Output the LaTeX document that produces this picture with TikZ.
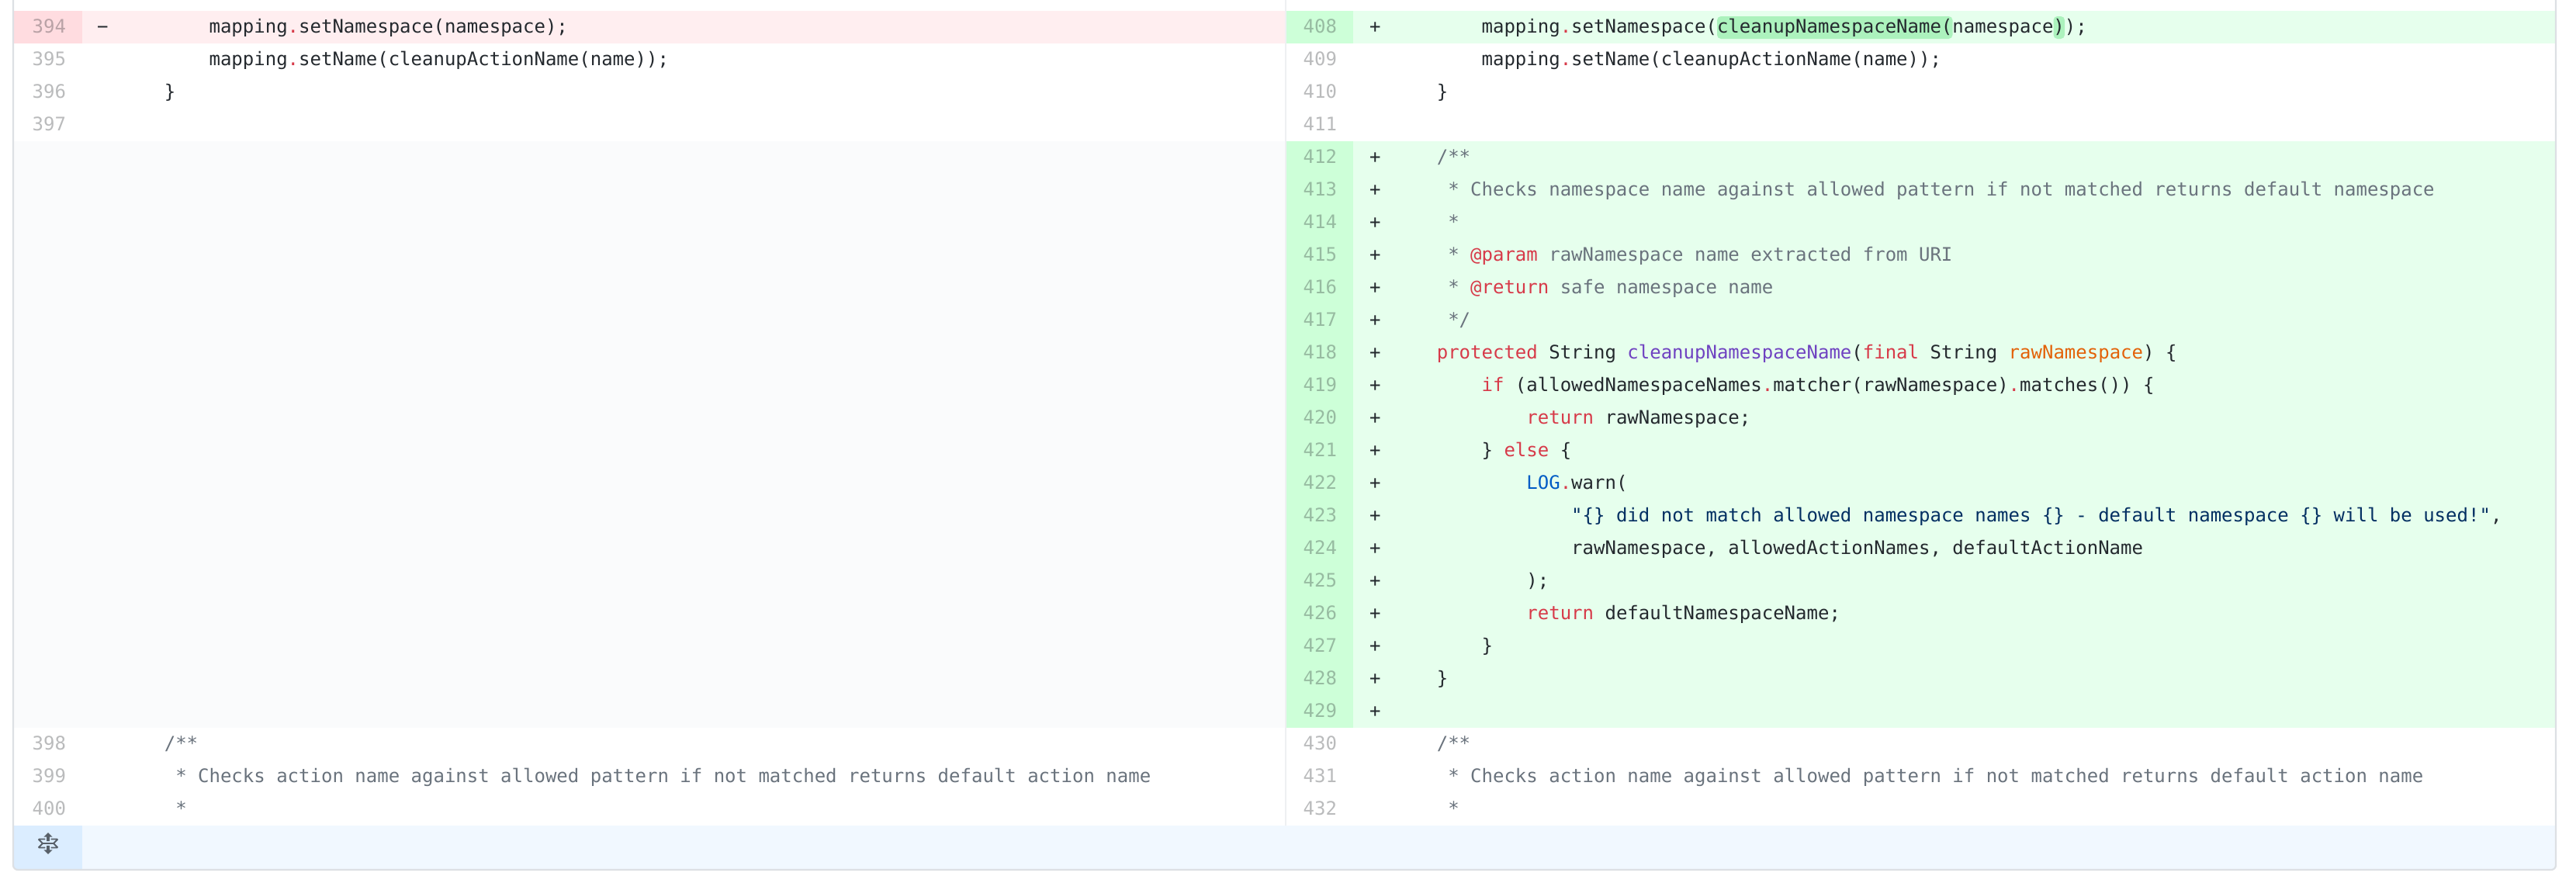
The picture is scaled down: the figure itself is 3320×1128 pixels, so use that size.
\documentclass[tikz,border=0pt]{standalone}
\usepackage{fontspec}
\setmonofont{DejaVu Sans Mono}
\usepackage{xcolor}
\definecolor{txt}{HTML}{24292E}
\definecolor{kwc}{HTML}{D73A49}
\definecolor{fnc}{HTML}{6F42C1}
\definecolor{varc}{HTML}{E36209}
\definecolor{cstc}{HTML}{005CC5}
\definecolor{strc}{HTML}{032F62}
\definecolor{cmtc}{HTML}{6A737D}
\definecolor{numc}{HTML}{1B1F23}
\definecolor{delbg}{HTML}{FFEEF0}
\definecolor{delnum}{HTML}{FFDCE0}
\definecolor{addbg}{HTML}{E6FFED}
\definecolor{addnum}{HTML}{CDFFD8}
\definecolor{addword}{HTML}{ACF2BD}
\definecolor{emptybg}{HTML}{FAFBFC}
\definecolor{expbg}{HTML}{F1F8FF}
\definecolor{expnum}{HTML}{DBEDFF}
\definecolor{bordc}{HTML}{DDE0E4}
\definecolor{divc}{HTML}{EEF0F2}
\definecolor{iconc}{HTML}{586069}
\newcommand\Kw[1]{\textcolor{kwc}{#1}}
\newcommand\Fn[1]{\textcolor{fnc}{#1}}
\newcommand\Vr[1]{\textcolor{varc}{#1}}
\newcommand\Cn[1]{\textcolor{cstc}{#1}}
\newcommand\St[1]{\textcolor{strc}{#1}}
\newcommand\Cm[1]{\textcolor{cmtc}{#1}}
\newcommand\Dt{\textcolor{kwc}{.}}
\newcommand\Dq{\char34 }
\newcommand\Lcode[4]{\node[codetext] (#1) at ({154+#3*14.45},{42.5+42*#2}) {#4};}
\newcommand\Rcode[4]{\node[codetext] (#1) at ({1794+#3*14.45},{42.5+42*#2}) {#4};}
\newcommand\Lnum[2]{\node[numtext] (ln#1) at (85,{42.5+42*#2}) {#1};}
\newcommand\Rnum[2]{\node[numtext] (rn#1) at (1723,{42.5+42*#2}) {#1};}
\newcommand\Rplus[2]{\node[codetext] (rp#1) at (1765,{42.5+42*#2}) {+};}
\begin{document}
\begin{tikzpicture}[x=1pt,y=-1pt,
  codetext/.style={anchor=base west, inner sep=0pt, outer sep=0pt, text=txt,
    font={\ttfamily\fontsize{24}{28}\selectfont}},
  numtext/.style={anchor=base east, inner sep=0pt, outer sep=0pt, text=numc,
    text opacity=0.3, font={\ttfamily\fontsize{24}{28}\selectfont}}]
\fill[white] (0,0) rectangle (3320,1128);
\useasboundingbox (0,0) rectangle (3320,1128);
% backgrounds
\begin{scope}
\clip[rounded corners=6] (17,-20) rectangle (3294,1121);
\fill[delnum] (17,14) rectangle (106,56);
\fill[delbg] (106,14) rectangle (1657,56);
\fill[addnum] (1658,14) rectangle (1744,56);
\fill[addbg] (1744,14) rectangle (3294,56);
\fill[emptybg] (17,182) rectangle (1657,938);
\fill[addnum] (1658,182) rectangle (1744,938);
\fill[addbg] (1744,182) rectangle (3294,938);
\fill[expnum] (17,1064) rectangle (106,1121);
\fill[expbg] (106,1064) rectangle (3294,1121);
\end{scope}
\draw[divc, line width=2] (1657,0) -- (1657,1064);
% word highlights on line 408
\fill[addword, rounded corners=5] (2213,21) rectangle (2516.5,50);
\fill[addword, rounded corners=5] (2646.5,21) rectangle (2661,50);
% left side
\Lnum{394}{0}
\node[codetext] (lm394) at (125,42.5) {\symbol{"2212}};
\Lcode{l394}{0}{8}{mapping\Dt setNamespace(namespace);}
\Lnum{395}{1}
\Lcode{l395}{1}{8}{mapping\Dt setName(cleanupActionName(name));}
\Lnum{396}{2}
\Lcode{l396}{2}{4}{\}}
\Lnum{397}{3}
\Lnum{398}{22}
\Lcode{l398}{22}{4}{\Cm{/**}}
\Lnum{399}{23}
\Lcode{l399}{23}{5}{\Cm{* Checks action name against allowed pattern if not matched returns default action name}}
\Lnum{400}{24}
\Lcode{l400}{24}{5}{\Cm{*}}
% right side
\Rnum{408}{0}\Rplus{408}{0}
\Rcode{r408}{0}{8}{mapping\Dt setNamespace(cleanupNamespaceName(namespace));}
\Rnum{409}{1}
\Rcode{r409}{1}{8}{mapping\Dt setName(cleanupActionName(name));}
\Rnum{410}{2}
\Rcode{r410}{2}{4}{\}}
\Rnum{411}{3}
\Rnum{412}{4}\Rplus{412}{4}
\Rcode{r412}{4}{4}{\Cm{/**}}
\Rnum{413}{5}\Rplus{413}{5}
\Rcode{r413}{5}{5}{\Cm{* Checks namespace name against allowed pattern if not matched returns default namespace}}
\Rnum{414}{6}\Rplus{414}{6}
\Rcode{r414}{6}{5}{\Cm{*}}
\Rnum{415}{7}\Rplus{415}{7}
\Rcode{r415}{7}{5}{\Cm{* \Kw{@param} rawNamespace name extracted from URI}}
\Rnum{416}{8}\Rplus{416}{8}
\Rcode{r416}{8}{5}{\Cm{* \Kw{@return} safe namespace name}}
\Rnum{417}{9}\Rplus{417}{9}
\Rcode{r417}{9}{5}{\Cm{*/}}
\Rnum{418}{10}\Rplus{418}{10}
\Rcode{r418}{10}{4}{\Kw{protected} String \Fn{cleanupNamespaceName}(\Kw{final} String \Vr{rawNamespace}) \{}
\Rnum{419}{11}\Rplus{419}{11}
\Rcode{r419}{11}{8}{\Kw{if} (allowedNamespaceNames\Dt matcher(rawNamespace)\Dt matches()) \{}
\Rnum{420}{12}\Rplus{420}{12}
\Rcode{r420}{12}{12}{\Kw{return} rawNamespace;}
\Rnum{421}{13}\Rplus{421}{13}
\Rcode{r421}{13}{8}{\} \Kw{else} \{}
\Rnum{422}{14}\Rplus{422}{14}
\Rcode{r422}{14}{12}{\Cn{LOG}\Dt warn(}
\Rnum{423}{15}\Rplus{423}{15}
\Rcode{r423}{15}{16}{\St{\Dq\{\} did not match allowed namespace names \{\} - default namespace \{\} will be used!\Dq},}
\Rnum{424}{16}\Rplus{424}{16}
\Rcode{r424}{16}{16}{rawNamespace, allowedActionNames, defaultActionName}
\Rnum{425}{17}\Rplus{425}{17}
\Rcode{r425}{17}{12}{);}
\Rnum{426}{18}\Rplus{426}{18}
\Rcode{r426}{18}{12}{\Kw{return} defaultNamespaceName;}
\Rnum{427}{19}\Rplus{427}{19}
\Rcode{r427}{19}{8}{\}}
\Rnum{428}{20}\Rplus{428}{20}
\Rcode{r428}{20}{4}{\}}
\Rnum{429}{21}\Rplus{429}{21}
\Rnum{430}{22}
\Rcode{r430}{22}{4}{\Cm{/**}}
\Rnum{431}{23}
\Rcode{r431}{23}{5}{\Cm{* Checks action name against allowed pattern if not matched returns default action name}}
\Rnum{432}{24}
\Rcode{r432}{24}{5}{\Cm{*}}
% expand icon (unfold)
\begin{scope}[shift={(49.05,1073.1)}, x=1.85pt, y=-1.85pt]
\fill[iconc] (11.5,7.5) -- (14,10) -- (13.6,10.8) -- (13,11) -- (9,11) -- (9,10) -- (12.5,10) -- (10.5,8)
  -- (3.5,8) -- (1.5,10) -- (5,10) -- (5,11) -- (1,11) -- (0.4,10.8) -- (0,10) -- (2.5,7.5) -- (0,5)
  -- (0.4,4.2) -- (1,4) -- (5,4) -- (5,5) -- (1.5,5) -- (3.5,7) -- (10.5,7) -- (12.5,5) -- (9,5)
  -- (9,4) -- (13,4) -- (13.6,4.2) -- (14,5) -- cycle;
\fill[iconc] (6,6) -- (8,6) -- (8,3) -- (10,3) -- (7,0) -- (4,3) -- (6,3) -- cycle;
\fill[iconc] (8,9) -- (6,9) -- (6,12) -- (4,12) -- (7,15) -- (10,12) -- (8,12) -- cycle;
\end{scope}
% container border
\draw[bordc, line width=2.2, rounded corners=6] (17,-10) -- (17,1121) -- (3294,1121) -- (3294,-10);
\end{tikzpicture}
\end{document}
